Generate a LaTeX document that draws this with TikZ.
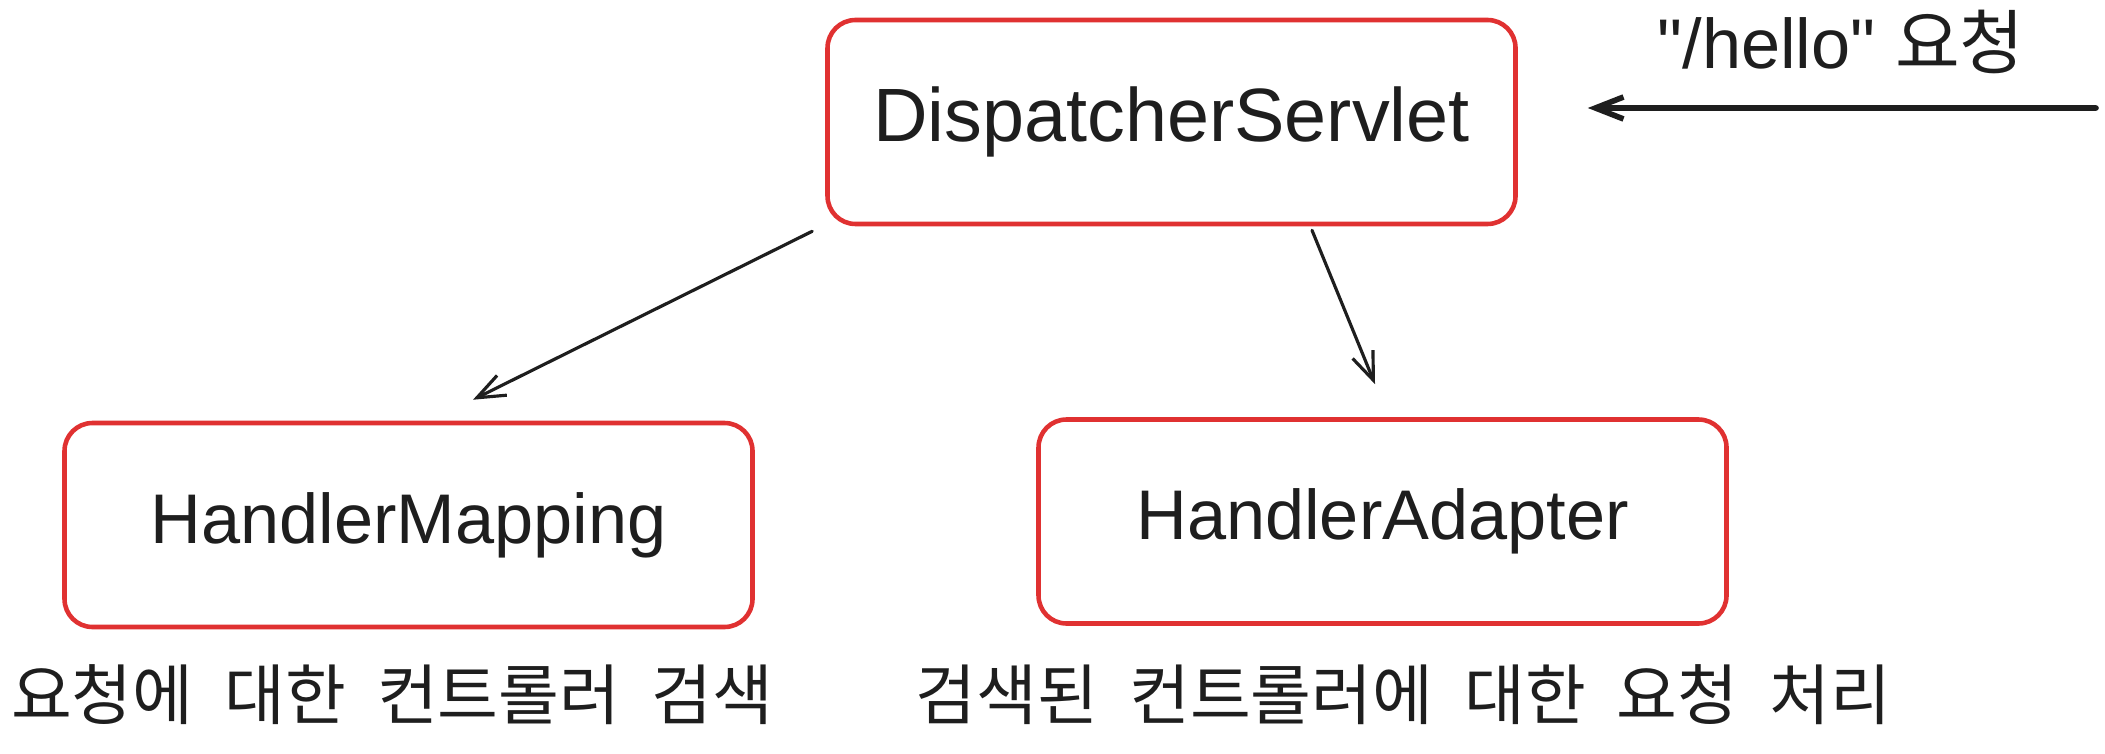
\documentclass[tikz,border=0pt]{standalone}
\usepackage{fontspec}
\setmainfont{Liberation Sans}
\newfontfamily\plain{Liberation Sans}
\newfontfamily\kr{Noto Sans CJK KR}[WordSpace=2.1]
\usetikzlibrary{arrows.meta}
\begin{document}
\begin{tikzpicture}[line join=round, line cap=round]
	\definecolor{boxred}{HTML}{E03131}
	\definecolor{ink}{HTML}{1E1E1E}
	\tikzset{
		box/.style={draw=boxred, line width=1.3pt, rounded corners=.28cm,
			minimum width=6.88cm, minimum height=2.04cm, text=ink,
			font=\fontsize{20}{24}\selectfont},
		arr/.style={draw=ink, line width=.9pt, -{Straight Barb[length=.28cm,width=.22cm]}},
		note/.style={text=ink, inner sep=0pt, font=\kr\fontsize{18.8}{22}\selectfont}
	}
	\useasboundingbox (0,0) rectangle (21.05,7.53);
	
	% boxes
	\node[box, font=\fontsize{21.5}{26}\selectfont] (disp) at (11.715,6.31) {DispatcherServlet};
	\node[box] (map) at (4.085,2.28) {HandlerMapping};
	\node[box] (adapter) at (13.825,2.315) {HandlerAdapter};
	
	% texts
	\node[note] (mapnote) at (3.92,.58) {요청에 대한 컨트롤러 검색};
	\node[note] (adapternote) at (14.035,.58) {검색된 컨트롤러에 대한 요청 처리};
	\node[text=ink, inner sep=0pt, font=\plain\fontsize{20}{24}\selectfont] (hello) at (18.41,7.11)
		{"/hello" {\kr 요청}};
	
	% arrows
	\path (20.96,6.45) coordinate (req);
	\draw[arr, line width=1.6pt] (req) -- ([shift={(.7,.14)}]disp.east);
	\draw[arr] ([shift={(-.13,-.05)}]disp.south west) -- ([shift={(.645,.21)}]map.north);
	\draw[arr] ([shift={(1.405,-.04)}]disp.south) -- ([shift={(-.075,.33)}]adapter.north);
\end{tikzpicture}
\end{document}
